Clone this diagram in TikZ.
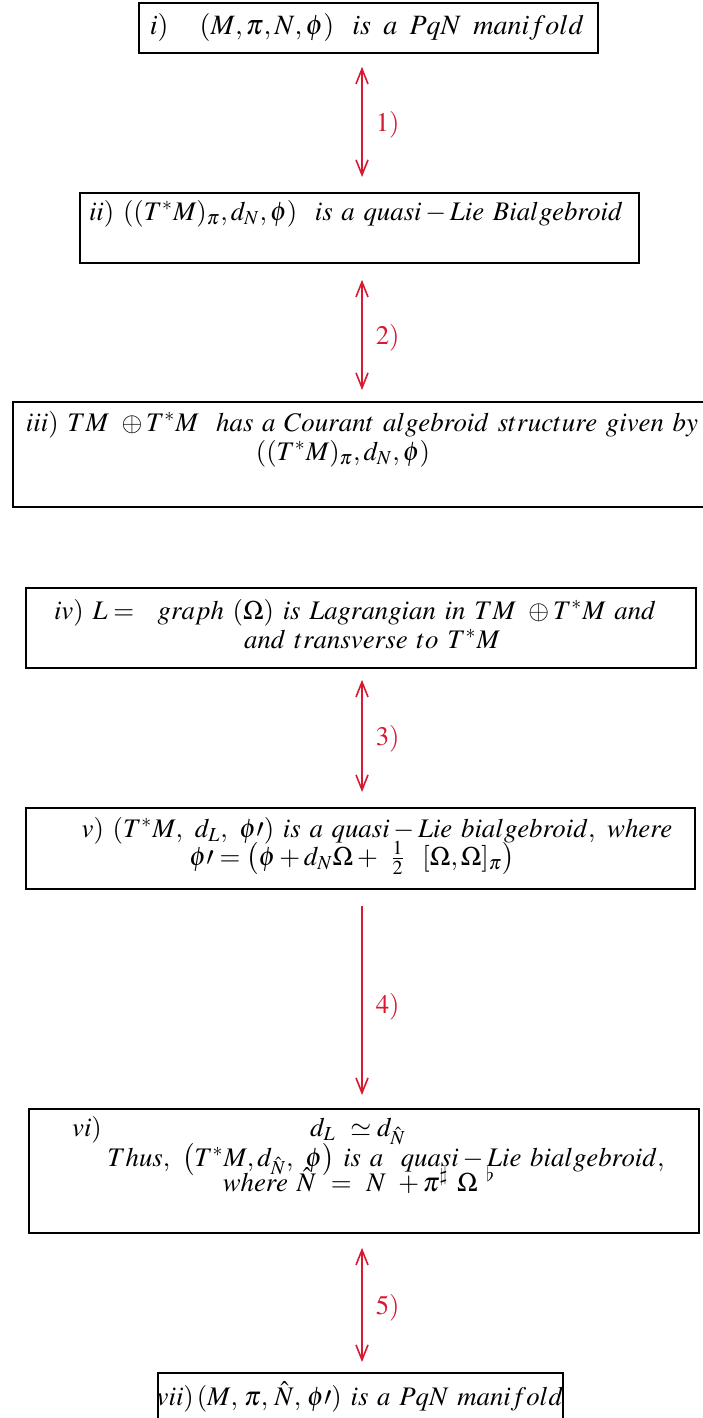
\documentclass[tikz,border=0pt]{standalone}
\usepackage{mathptmx}
\usetikzlibrary{arrows.meta,calc}
\definecolor{arrred}{RGB}{215,25,50}
\begin{document}
\begin{tikzpicture}[x=0.5pt,y=-0.5pt,
  box/.style={draw,line width=0.9pt,inner sep=0pt,anchor=north west},
  txt/.style={inner sep=0pt,anchor=base,font=\fontsize{13.4}{16}\selectfont},
  rlbl/.style={inner sep=0pt,anchor=west,text=arrred,font=\fontsize{13.4}{16}\selectfont},
  arrbase/.style={arrred,line width=0.8pt},
  both/.style={arrbase,{Straight Barb[length=7.5pt,width=6pt]}-{Straight Barb[length=7.5pt,width=6pt]}},
  down/.style={arrbase,-{Straight Barb[length=7.5pt,width=6pt]}}]
\useasboundingbox (0,0) rectangle (702,1418);
\coordinate (ax) at (362,0);
% boxes
\node[box,minimum width=229.5pt,minimum height=25pt] (bi) at (138,2) {};
\node[box,minimum width=279.5pt,minimum height=35pt] (bii) at (79,192) {};
\node[box,minimum width=348pt,minimum height=52.5pt] (biii) at (12,401) {};
\node[box,minimum width=335pt,minimum height=40pt] (biv) at (25,587) {};
\node[box,minimum width=334.5pt,minimum height=40.5pt] (bv) at (25,807) {};
\node[box,minimum width=335pt,minimum height=62pt] (bvi) at (28,1108) {};
\node[box,minimum width=202.5pt,minimum height=26pt] (bvii) at (157,1372) {};
% texts
\node[txt,font=\fontsize{14}{16}\selectfont] (ti) at (367,35) {$i)\quad\, (M,\pi,N,\phi)\ \ is\ \,a\ \,PqN\ \,manifold$};
\node[txt] (tii) at (356,220) {$ii)\ ((T^*M)_\pi,d_N,\phi)\ \ is\ a\ quasi-Lie\ Bialgebroid$};
\node[txt] (tiiia) at (362,431) {$iii)\ TM\ \oplus T^*M\ \ has\ a\ Courant\ algebroid\ structure\ given\ by$};
\node[txt] (tiiib) at (343,460) {$((T^*M)_\pi,d_N,\phi)$};
\node[txt] (tiva) at (355,619) {$iv)\ L=\ \ graph\ (\Omega)\ is\ Lagrangian\ in\ TM\ \oplus T^*M\ and$};
\node[txt] (tivb) at (372,648) {$and\ transverse\ to\ T^*M$};
\node[txt] (tva) at (377,837) {$v)\ (T^*M,\ d_L,\ \phi\prime)\ is\ a\ quasi-Lie\ bialgebroid,\ where$};
\node[txt] (tvb) at (352,865) {$\phi\prime=\big(\phi+d_N\Omega+\ \frac{1}{2}\ \ [\Omega,\Omega]_\pi\big)$};
\node[txt] (tvia) at (87,1136) {$vi)$};
\node[txt] (tvib) at (358,1136) {$d_L\ \simeq d_{\hat N}$};
\node[txt] (tvic) at (386,1166) {$Thus,\ \big(T^*M,d_{\hat N},\ \phi\big)\ is\ a\ \ quasi-Lie\ bialgebroid,$};
\node[txt] (tvid) at (359,1191) {$where\ \hat N\ =\ N\ +\pi^\sharp\ \Omega^{\ \flat}$};
\node[txt] (tvii) at (360,1405) {$vii)\,(M,\,\pi,\,\hat N,\,\phi\prime)\ is\ a\ PqN\ manifold$};
% arrows
\draw[both] ($(bi.south -| ax)+(0,13)$) -- ($(bii.north -| ax)+(0,-15)$) node[midway,rlbl,xshift=6.5pt,yshift=-1.5pt] {$1)$};
\draw[both] ($(bii.south -| ax)+(0,16)$) -- ($(biii.north -| ax)+(0,-11)$) node[midway,rlbl,xshift=6.5pt,yshift=-1.5pt] {$2)$};
\draw[both] ($(biv.south -| ax)+(0,11)$) -- ($(bv.north -| ax)+(0,-15)$) node[midway,rlbl,xshift=6.5pt,yshift=-1.5pt] {$3)$};
\draw[down] ($(bv.south -| ax)+(0,16)$) -- ($(bvi.north -| ax)+(0,-13)$) node[midway,rlbl,xshift=6.5pt,yshift=-3pt] {$4)$};
\draw[both] ($(bvi.south -| ax)+(0,14)$) -- ($(bvii.north -| ax)+(0,-10)$) node[midway,rlbl,xshift=6.5pt,yshift=-1.5pt] {$5)$};
\end{tikzpicture}
\end{document}
